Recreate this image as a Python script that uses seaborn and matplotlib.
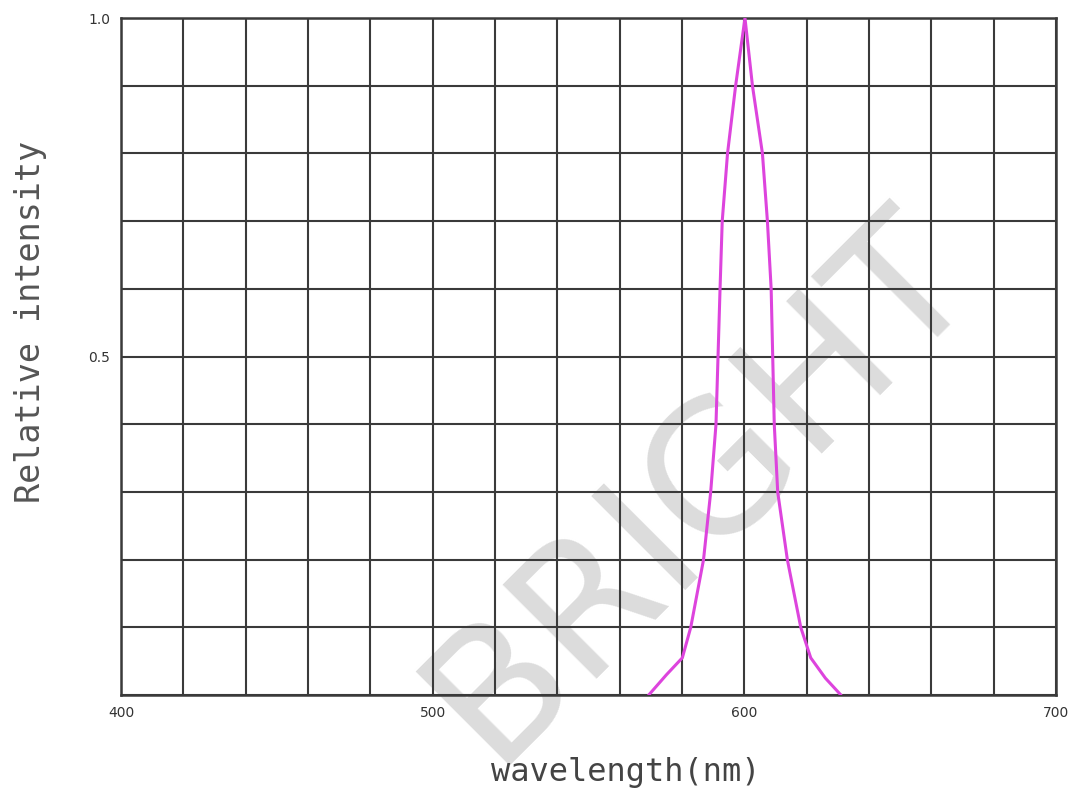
import numpy as np
import pandas as pd
import seaborn as sns
import matplotlib.pyplot as plt

# spectrum (nm, relative intensity)
wavelength = [569.3, 575.0, 580.1, 582.8, 586.9, 589.2, 590.9, 592.2, 592.9, 594.6, 597.2, 600.2,
              602.6, 605.8, 607.4, 608.6, 609.6, 610.7, 613.8, 618.1, 621.3, 626.0, 631.0]
intensity = [0.0, 0.03, 0.055, 0.1, 0.2, 0.3, 0.4, 0.6, 0.7, 0.8, 0.9, 1.0,
             0.9, 0.8, 0.7, 0.6, 0.4, 0.3, 0.2, 0.1, 0.055, 0.025, 0.0]

x_ticks = list(range(400, 701, 20))
x_tick_labels = ['400', '', '', '', '', '500', '', '', '', '', '600', '', '', '', '', '700']
y_ticks = [round(v * 0.1, 1) for v in range(11)]
y_tick_labels = ['', '', '', '', '', '0.5', '', '', '', '', '1.0']

df = pd.DataFrame({'wavelength': wavelength, 'intensity': intensity})

sns.set_theme(style="white")
plt.rcParams['font.family'] = ['DejaVu Sans']

fig = plt.figure(figsize=(10.77, 7.98), dpi=100)
ax = fig.add_axes([0.1124, 0.129, 0.8681, 0.8484])
ax.set_facecolor('none')

# faint watermark behind the grid
fig.text(0.65, 0.39, 'BRIGHT', fontsize=130, color='#dcdcdc',
         rotation=45, ha='center', va='center', zorder=-1)

sns.lineplot(data=df, x='wavelength', y='intensity', color='#dd44dd', lw=2.2, ax=ax, zorder=5)

ax.set_xlim(400, 700)
ax.set_ylim(0, 1.0)
ax.set_xticks(x_ticks)
ax.set_xticklabels(x_tick_labels)
ax.set_yticks(y_ticks)
ax.set_yticklabels(y_tick_labels)
ax.tick_params(length=0, labelsize=10, labelcolor='#333333')
ax.tick_params(axis='x', pad=8)
ax.tick_params(axis='y', pad=8)

ax.grid(True, color='#3a3a3a', lw=1.5)
for s in ax.spines.values():
    s.set_color('#3a3a3a')
    s.set_linewidth(1.8)

ax.set_xlabel('wavelength(nm)', fontsize=23, family='DejaVu Sans Mono', color='#444444', va='center')
ax.xaxis.set_label_coords(0.54, -0.114)
ax.set_ylabel('Relative intensity', fontsize=24, family='DejaVu Sans Mono', color='#555555',
              va='center', ha='center')
ax.yaxis.set_label_coords(-0.097, 0.551)

fig.savefig('out.png', dpi=100)
